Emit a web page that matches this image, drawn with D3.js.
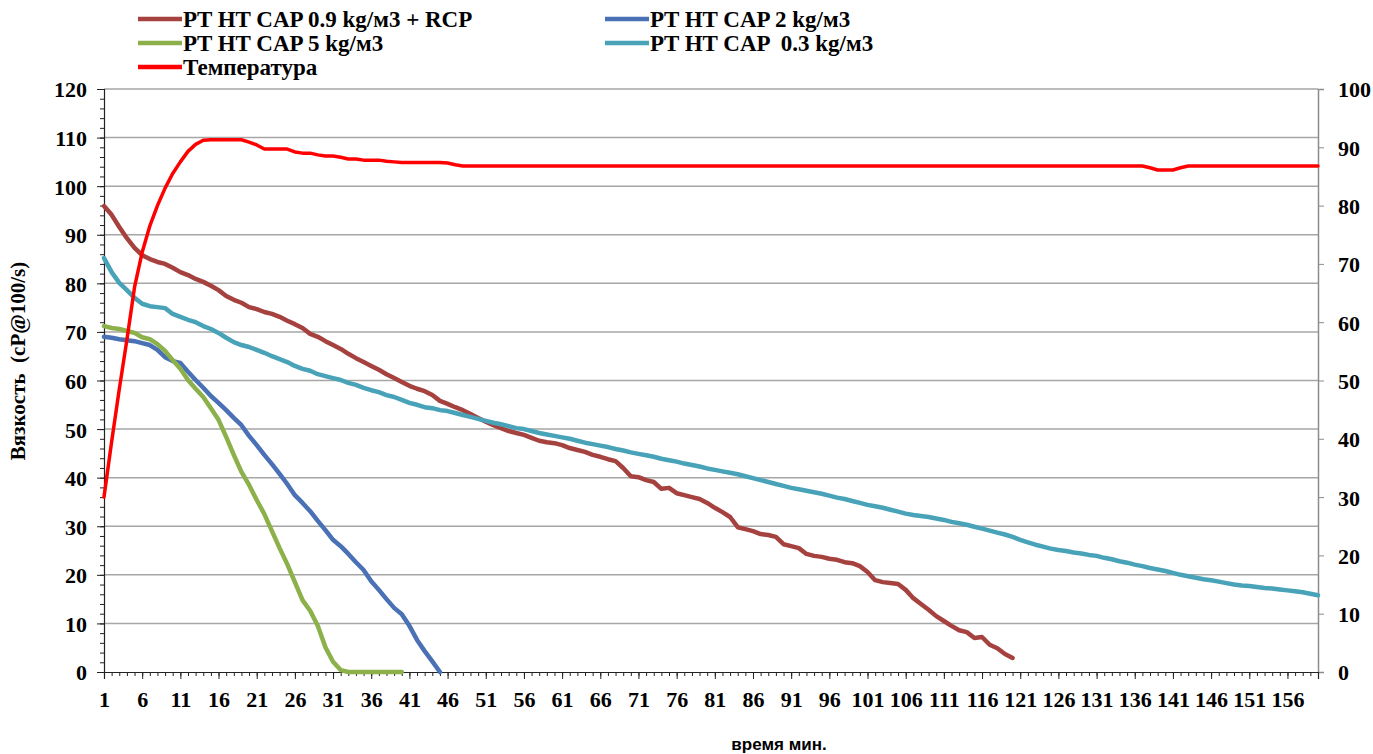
<!DOCTYPE html>
<html lang="ru">
<head>
    <meta charset="UTF-8">
    <title>Вязкость и температура</title>
    <script type="text/javascript" src="https://d3js.org/d3.v7.min.js"></script>
    <style>
        body { margin: 0; background: #fff; }
        .tick text { font-family: "Liberation Serif", "Times New Roman", serif; font-weight: bold; font-size: 22px; fill: #000; }
    </style>
</head>
<body>

    <svg id="svg" width=1373 height=754></svg>

    <script>
        // time, minutes (category axis)
        let minutes = d3.range(1, 161);
        let xTickLabels = [1, 6, 11, 16, 21, 26, 31, 36, 41, 46, 51, 56, 61, 66, 71, 76, 81, 86, 91, 96,
                           101, 106, 111, 116, 121, 126, 131, 136, 141, 146, 151, 156];
        let leftTicks = [0, 10, 20, 30, 40, 50, 60, 70, 80, 90, 100, 110, 120];
        let rightTicks = [0, 10, 20, 30, 40, 50, 60, 70, 80, 90, 100];

        // PT HT CAP 0.9 kg/м3 + RCP
        let cap09rcp = [
            95.9, 94.1, 91.6, 89.3, 87.3, 85.8, 85.0, 84.4, 84.0, 83.2,
            82.3, 81.7, 80.9, 80.3, 79.5, 78.6, 77.4, 76.6, 76.0, 75.1,
            74.7, 74.1, 73.7, 73.1, 72.3, 71.6, 70.8, 69.6, 69.0, 68.1,
            67.3, 66.5, 65.5, 64.6, 63.8, 63.0, 62.2, 61.3, 60.5, 59.7,
            58.9, 58.3, 57.8, 57.0, 55.8, 55.2, 54.5, 53.9, 53.1, 52.3,
            51.5, 50.8, 50.2, 49.6, 49.2, 48.8, 48.2, 47.6, 47.3, 47.1,
            46.7, 46.1, 45.7, 45.3, 44.7, 44.3, 43.8, 43.4, 42.0, 40.3,
            40.1, 39.5, 39.1, 37.7, 37.9, 36.8, 36.4, 36.0, 35.6, 34.8,
            33.8, 32.9, 31.9, 29.8, 29.4, 29.0, 28.4, 28.2, 27.8, 26.3,
            25.9, 25.5, 24.3, 23.9, 23.7, 23.3, 23.1, 22.6, 22.4, 21.8,
            20.6, 18.9, 18.5, 18.3, 18.1, 16.9, 15.2, 14.0, 12.8,
            11.5, 10.5, 9.5, 8.6, 8.2, 7.0, 7.2, 5.6, 4.9, 3.7, 2.9
        ];

        // PT HT CAP 2 kg/м3
        let cap2 = [
            69.0, 68.8, 68.5, 68.3, 68.1, 67.7, 67.3, 66.3, 64.8, 64.0,
            63.6, 61.8, 60.1, 58.5, 56.8, 55.4, 53.9, 52.3, 50.8, 48.6,
            46.7, 44.7, 42.8, 40.8, 38.7, 36.4, 34.8, 33.1, 31.1, 29.2,
            27.2, 25.9, 24.3, 22.6, 21.0, 18.7, 16.9, 15.0, 13.2, 11.9,
            9.5, 6.6, 4.3, 2.2, 0
        ];

        // PT HT CAP 5 kg/м3
        let cap5 = [
            71.2, 70.8, 70.6, 70.2, 69.8, 68.9, 68.5, 67.5, 66.1, 64.2,
            62.4, 60.1, 58.3, 56.6, 54.3, 51.9, 48.4, 44.7, 41.2, 38.5,
            35.4, 32.5, 29.0, 25.5, 22.2, 18.5, 14.8, 12.6, 9.5, 5.1,
            2.1, 0.4, 0, 0, 0, 0, 0, 0, 0, 0
        ];

        // PT HT CAP 0.3 kg/м3
        let cap03 = [
            85.2, 82.3, 80.1, 78.6, 77.0, 75.8, 75.3, 75.1, 74.9, 73.7,
            73.1, 72.5, 72.0, 71.2, 70.6, 69.8, 68.8, 67.9, 67.3, 66.9,
            66.3, 65.7, 65.0, 64.4, 63.8, 63.0, 62.4, 62.0, 61.3, 60.9,
            60.5, 60.1, 59.5, 59.1, 58.5, 58.0, 57.6, 57.0, 56.6, 56.0,
            55.4, 55.0, 54.5, 54.3, 53.9, 53.7, 53.3, 52.9, 52.5, 52.1,
            51.7, 51.3, 51.0, 50.6, 50.2, 50.0, 49.6, 49.2, 48.9, 48.6,
            48.3, 48.0, 47.6, 47.2, 46.9, 46.6, 46.3, 45.9, 45.6, 45.2,
            44.9, 44.6, 44.3, 43.9, 43.6, 43.3, 42.9, 42.6, 42.3, 41.9,
            41.6, 41.3, 41.0, 40.7, 40.3, 39.9, 39.5, 39.1, 38.7, 38.3,
            37.9, 37.6, 37.3, 37.0, 36.7, 36.3, 35.9, 35.6, 35.2, 34.8,
            34.4, 34.1, 33.8, 33.4, 33.0, 32.6, 32.3, 32.1, 31.9, 31.6,
            31.3, 30.9, 30.6, 30.3, 29.9, 29.5, 29.1, 28.7, 28.3, 27.8,
            27.2, 26.7, 26.2, 25.8, 25.4, 25.1, 24.9, 24.6, 24.4, 24.1,
            23.9, 23.5, 23.2, 22.8, 22.5, 22.1, 21.8, 21.4, 21.1, 20.8,
            20.4, 20.0, 19.7, 19.4, 19.1, 18.9, 18.6, 18.3, 18.0, 17.8,
            17.7, 17.5, 17.3, 17.2, 17.0, 16.8, 16.6, 16.4, 16.1, 15.8
        ];

        // Температура (right axis)
        let temperature = [
            30.0, 39.5, 48.5, 57.0, 66.0, 72.0, 76.5, 80.0, 83.0, 85.5,
            87.5, 89.3, 90.5, 91.2, 91.3, 91.3, 91.3, 91.3, 91.3, 90.9,
            90.4, 89.7, 89.7, 89.7, 89.7, 89.2, 89.0, 89.0, 88.7, 88.5,
            88.5, 88.3, 88.0, 88.0, 87.8, 87.8, 87.8, 87.6, 87.5, 87.4,
            87.4, 87.4, 87.4, 87.4, 87.4, 87.3, 87.0, 86.8, 86.8, 86.8,
            86.8, 86.8, 86.8, 86.8, 86.8, 86.8, 86.8, 86.8, 86.8, 86.8,
            86.8, 86.8, 86.8, 86.8, 86.8, 86.8, 86.8, 86.8, 86.8, 86.8,
            86.8, 86.8, 86.8, 86.8, 86.8, 86.8, 86.8, 86.8, 86.8, 86.8,
            86.8, 86.8, 86.8, 86.8, 86.8, 86.8, 86.8, 86.8, 86.8, 86.8,
            86.8, 86.8, 86.8, 86.8, 86.8, 86.8, 86.8, 86.8, 86.8, 86.8,
            86.8, 86.8, 86.8, 86.8, 86.8, 86.8, 86.8, 86.8, 86.8, 86.8,
            86.8, 86.8, 86.8, 86.8, 86.8, 86.8, 86.8, 86.8, 86.8, 86.8,
            86.8, 86.8, 86.8, 86.8, 86.8, 86.8, 86.8, 86.8, 86.8, 86.8,
            86.8, 86.8, 86.8, 86.8, 86.8, 86.8, 86.8, 86.5, 86.1,
            86.1, 86.1, 86.5, 86.8, 86.8, 86.8, 86.8, 86.8, 86.8, 86.8,
            86.8, 86.8, 86.8, 86.8, 86.8, 86.8, 86.8, 86.8, 86.8, 86.8, 86.8
        ];

        let series = [
            { name: 'PT HT CAP 0.9 kg/м3 + RCP', values: cap09rcp, color: '#A5423F', width: 4.5, axis: 'left' },
            { name: 'PT HT CAP 2 kg/м3', values: cap2, color: '#4A70B5', width: 4.5, axis: 'left' },
            { name: 'PT HT CAP 5 kg/м3', values: cap5, color: '#8CB04A', width: 4.5, axis: 'left' },
            { name: 'PT HT CAP  0.3 kg/м3', values: cap03, color: '#48A2B8', width: 4.5, axis: 'left' },
            { name: 'Температура', values: temperature, color: '#FF0000', width: 3.5, axis: 'right' }
        ];

        let svg = d3.select('svg');

        const plotLeft = 104, plotRight = 1318, plotTop = 89, plotBottom = 672;

        let x = d3.scaleLinear().domain([1, 160]).range([plotLeft, plotRight]);
        let yLeft = d3.scaleLinear().domain([0, 120]).range([plotBottom, plotTop]);
        let yRight = d3.scaleLinear().domain([0, 100]).range([plotBottom, plotTop]);

        // horizontal gridlines
        svg.append('g')
            .selectAll('line')
            .data(leftTicks.filter(d => d > 0))
            .enter()
            .append('line')
            .attr('x1', plotLeft)
            .attr('x2', plotRight)
            .attr('y1', d => yLeft(d))
            .attr('y2', d => yLeft(d))
            .attr('stroke', '#a6a6a6')
            .attr('stroke-width', 1.5);

        // left axis: minor then major ticks
        svg.append('g')
            .attr('transform', `translate(${plotLeft},0)`)
            .call(d3.axisLeft(yLeft).tickValues(d3.range(0, 121, 2)).tickSize(4).tickFormat(''))
            .call(g => g.select('.domain').remove())
            .selectAll('line').attr('stroke', '#222');

        let leftAxis = svg.append('g')
            .attr('transform', `translate(${plotLeft},0)`)
            .call(d3.axisLeft(yLeft).tickValues(leftTicks).tickSize(7).tickPadding(10));
        leftAxis.select('.domain').attr('stroke', '#222').attr('stroke-width', 1.2);
        leftAxis.selectAll('.tick line').attr('stroke', '#222');
        leftAxis.selectAll('.tick text').attr('dy', '0.36em');

        // right axis (temperature)
        let rightAxis = svg.append('g')
            .attr('transform', `translate(${plotRight},0)`)
            .call(d3.axisRight(yRight).tickValues(rightTicks).tickSize(6).tickPadding(14));
        rightAxis.select('.domain').attr('stroke', '#8c8c8c').attr('stroke-width', 1.5);
        rightAxis.selectAll('.tick line').attr('stroke', '#8c8c8c');
        rightAxis.selectAll('.tick text').attr('dy', '0.36em');

        // bottom axis: minor ticks every minute, major every 5
        svg.append('g')
            .attr('transform', `translate(0,${plotBottom})`)
            .call(d3.axisBottom(x).tickValues(minutes).tickSize(4).tickFormat(''))
            .call(g => g.select('.domain').remove())
            .selectAll('line').attr('stroke', '#222');

        let bottomAxis = svg.append('g')
            .attr('transform', `translate(0,${plotBottom})`)
            .call(d3.axisBottom(x).tickValues(xTickLabels).tickSize(7).tickPadding(12).tickFormat(d3.format('d')));
        bottomAxis.select('.domain').attr('stroke', '#222').attr('stroke-width', 1.2);
        bottomAxis.selectAll('.tick line').attr('stroke', '#222');

        // series lines
        series.forEach(s => {
            let yScale = s.axis === 'left' ? yLeft : yRight;
            let line = d3.line()
                .x((d, i) => x(minutes[i]))
                .y(d => yScale(d));
            svg.append('path')
                .datum(s.values)
                .attr('d', line)
                .attr('fill', 'none')
                .attr('stroke', s.color)
                .attr('stroke-width', s.width)
                .attr('stroke-linejoin', 'round')
                .attr('stroke-linecap', 'round');
        });

        // axis titles
        svg.append('text')
            .attr('transform', 'translate(25,361) rotate(-90)')
            .attr('text-anchor', 'middle')
            .style('font-family', '"Liberation Serif", "Times New Roman", serif')
            .style('font-weight', 'bold')
            .style('font-size', '21px')
            .style('white-space', 'pre')
            .text('Вязкость  (cP@100/s)');

        svg.append('text')
            .attr('x', 779)
            .attr('y', 750)
            .attr('text-anchor', 'middle')
            .style('font-family', '"Liberation Sans", Arial, sans-serif')
            .style('font-weight', 'bold')
            .style('font-size', '17px')
            .text('время мин.');

        // legend
        let legendPos = [
            { x: 138, y: 19 }, { x: 605, y: 19 },
            { x: 138, y: 43 }, { x: 605, y: 43 },
            { x: 138, y: 67 }
        ];

        let legend = svg.append('g')
            .selectAll('g')
            .data(series)
            .enter()
            .append('g')
            .attr('transform', (d, i) => `translate(${legendPos[i].x},${legendPos[i].y})`);

        legend.append('line')
            .attr('x1', 0).attr('x2', 44)
            .attr('y1', 0).attr('y2', 0)
            .attr('stroke', d => d.color)
            .attr('stroke-width', 4.5);

        legend.append('text')
            .attr('x', 45)
            .attr('y', 0)
            .attr('dy', '0.35em')
            .style('font-family', '"Liberation Serif", "Times New Roman", serif')
            .style('font-weight', 'bold')
            .style('font-size', '23px')
            .style('white-space', 'pre')
            .text(d => d.name);

    </script>

</body>
</html>
